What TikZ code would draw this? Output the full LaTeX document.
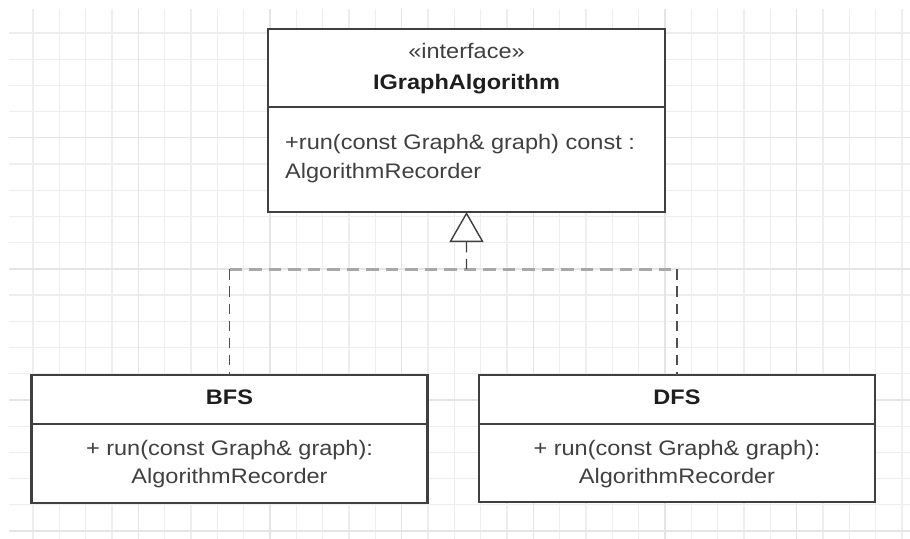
\documentclass[tikz,border=0pt]{standalone}
\usepackage{fontspec}
\setmainfont{Liberation Sans}[FakeStretch=1.12]
\usetikzlibrary{arrows.meta}

\definecolor{gridminor}{HTML}{EEEEEE}
\definecolor{gridmajor}{HTML}{E5E5E5}
\definecolor{boxline}{HTML}{404040}
\definecolor{textgray}{HTML}{404040}
\definecolor{textdark}{HTML}{1E1E1E}
\definecolor{linkdark}{HTML}{505050}
\definecolor{linklight}{HTML}{A8A8A8}

\tikzset{
  minorline/.style={draw=gridminor, line width=1.3bp},
  majorline/.style={draw=gridmajor, line width=1.3bp},
  classbox/.style={draw=boxline, line width=2.6bp, fill=white, rectangle,
    outer sep=0pt, inner sep=0pt, anchor=north west},
  divider/.style={draw=boxline, line width=2.2bp},
  txt/.style={text=textgray, inner sep=0pt, anchor=base,
    font=\fontsize{21bp}{28.5bp}\selectfont},
  title/.style={txt, text=textdark, font=\fontsize{21bp}{28.5bp}\selectfont\bfseries},
  realize/.style={draw=linkdark, line width=1.4bp, dash pattern=on 10.5bp off 6.5bp},
  realizejoin/.style={draw=linklight, line width=2.6bp, dash pattern=on 12.5bp off 7bp},
  hollowtip/.style={-{Triangle[width=34bp, length=30bp, fill=white]}}
}

\begin{document}
\begin{tikzpicture}[x=1bp, y=-1bp]
  \useasboundingbox (0,0) rectangle (910,539);
  \fill[white] (0,0) rectangle (910,539);

  % background grid
  \foreach \i in {0,...,33} {
    \pgfmathsetmacro\gx{33+\i*26.333}
    \draw[minorline] (\gx,9) -- (\gx,539);
  }
  \foreach \j in {0,...,19} {
    \pgfmathsetmacro\gy{33+\j*26.21}
    \draw[minorline] (9,\gy) -- (910,\gy);
  }
  \foreach \i in {4,9,...,29} {
    \pgfmathsetmacro\gx{33+\i*26.333}
    \draw[majorline] (\gx,9) -- (\gx,539);
  }
  \foreach \j in {4,9,...,19} {
    \pgfmathsetmacro\gy{33+\j*26.21}
    \draw[majorline] (9,\gy) -- (910,\gy);
  }

  % interface class
  \node[classbox, minimum width=397bp, minimum height=183bp] (iface) at (268,29) {};
  \coordinate (ifdiv) at (0,107);
  \draw[divider] (iface.west |- ifdiv) -- (iface.east |- ifdiv);
  \node[txt] (ifstereo) at (466.5,59) {«interface»};
  \node[title] (ifname) at (466.5,89.3) {IGraphAlgorithm};
  \node[txt, anchor=base west] (ifop1) at (285,150) {+run(const Graph\& graph) const :};
  \node[txt, anchor=base west] (ifop2) at (285,178.5) {AlgorithmRecorder};

  % BFS class
  \node[classbox, minimum width=396bp, minimum height=128bp] (bfs) at (31.5,375) {};
  \coordinate (bfsdiv) at (0,424);
  \draw[divider] (bfs.west |- bfsdiv) -- (bfs.east |- bfsdiv);
  \node[title] (bfsname) at (229.5,404.3) {BFS};
  \node[txt] (bfsop1) at (229.5,455) {+ run(const Graph\& graph):};
  \node[txt] (bfsop2) at (229.5,483.5) {AlgorithmRecorder};

  % DFS class
  \node[classbox, minimum width=396bp, minimum height=127bp] (dfs) at (479,375) {};
  \coordinate (dfsdiv) at (0,424);
  \draw[divider] (dfs.west |- dfsdiv) -- (dfs.east |- dfsdiv);
  \node[title] (dfsname) at (677,404.3) {DFS};
  \node[txt] (dfsop1) at (677,455) {+ run(const Graph\& graph):};
  \node[txt] (dfsop2) at (677,483.5) {AlgorithmRecorder};

  % realization links
  \coordinate (join) at (466.5,269.5);
  \coordinate (bfsturn) at (bfs.north |- join);
  \coordinate (dfsturn) at (dfs.north |- join);
  \draw[realizejoin] (bfsturn) -- (dfsturn);
  \draw[realize] (bfsturn) -- (bfs.north);
  \draw[realize] (dfsturn) -- (dfs.north);
  \draw[realize, hollowtip, draw=boxline] (join) -- (iface.south);
\end{tikzpicture}
\end{document}
